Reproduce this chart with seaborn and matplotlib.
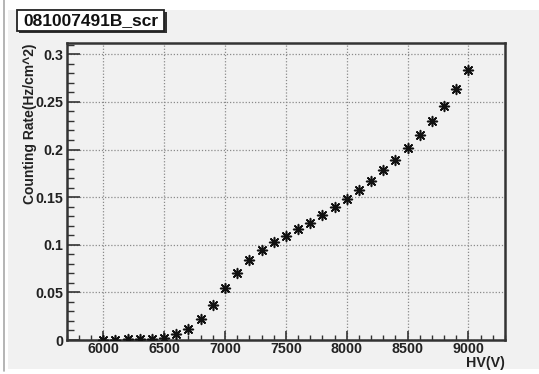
import matplotlib
matplotlib.use("Agg")
import matplotlib.pyplot as plt
from matplotlib.patches import Rectangle
from matplotlib.lines import Line2D
from matplotlib.ticker import MultipleLocator
import numpy as np
import pandas as pd
import seaborn as sns

# ---- data ----
hv = [6000, 6100, 6200, 6300, 6400, 6500, 6600, 6700, 6800, 6900,
      7000, 7100, 7200, 7300, 7400, 7500, 7600, 7700, 7800, 7900,
      8000, 8100, 8200, 8300, 8400, 8500, 8600, 8700, 8800, 8900, 9000]
rate = [0.0, 0.0, 0.0007, 0.001, 0.001, 0.002, 0.0063, 0.0115, 0.0217, 0.0367,
        0.0542, 0.0706, 0.0839, 0.0950, 0.1024, 0.1094, 0.1167, 0.1233, 0.1310, 0.1398,
        0.1485, 0.1575, 0.1672, 0.1780, 0.1894, 0.2016, 0.2156, 0.2299, 0.2453, 0.2631, 0.2830]
title_text = "081007491B_scr"
x_label = "HV(V)"
y_label = "Counting Rate(Hz/cm^2)"
x_ticks = [6000, 6500, 7000, 7500, 8000, 8500, 9000]
y_ticks = [0, 0.05, 0.1, 0.15, 0.2, 0.25, 0.3]
y_tick_labels = ["0", "0.05", "0.1", "0.15", "0.2", "0.25", "0.3"]

df = pd.DataFrame({"HV": hv, "rate": rate})

sns.set_theme(style="white")
plt.rcParams["font.family"] = ["Liberation Sans", "DejaVu Sans"]
plt.rcParams["font.weight"] = "bold"

W, H = 539, 374
fig = plt.figure(figsize=(W / 100, H / 100), dpi=100)
fig.patch.set_facecolor("white")

bg = "#f1f1f1"
# canvas background
fig.patches.append(Rectangle((8 / W, (H - 369) / H), (W - 8) / W, (369 - 10) / H,
                             transform=fig.transFigure, facecolor=bg, edgecolor="none", zorder=-5))
fig.lines.append(Line2D([3.5 / W, 3.5 / W], [(H - 371) / H, 1.0], transform=fig.transFigure,
                        color="#a8a8a8", linewidth=1.2, zorder=-4))

ax = fig.add_axes([66.7 / W, (H - 340) / H, (505 - 66.7) / W, (340 - 43.3) / H])
ax.set_zorder(1)
ax.set_facecolor(bg)

sns.scatterplot(data=df, x="HV", y="rate", ax=ax, marker=(8, 2, 0), s=50,
                color="#111111", edgecolor="#111111", linewidth=1.15, zorder=5, legend=False)

ax.set_xlim(5700, 9300)
ax.set_ylim(0, 0.3115)
ax.set_xticks(x_ticks)
ax.set_xticklabels([str(t) for t in x_ticks])
ax.set_yticks(y_ticks)
ax.set_yticklabels(y_tick_labels)
ax.xaxis.set_minor_locator(MultipleLocator(100))
ax.yaxis.set_minor_locator(MultipleLocator(0.01))

ax.grid(True, which="major", color="#8a8a8a", linestyle=(0, (1, 1.5)), linewidth=0.9)
ax.set_axisbelow(True)

for s in ax.spines.values():
    s.set_color("#333333")
    s.set_linewidth(1.8)
    s.set_visible(True)

ax.tick_params(axis="both", which="both", direction="in", colors="#333333",
               labelcolor="#222222", labelsize=10.3)
ax.tick_params(axis="y", which="major", length=9.4, width=1.2, pad=2.5, left=True, right=False)
ax.tick_params(axis="y", which="minor", length=5, width=1.0, left=True, right=False)
ax.tick_params(axis="x", which="major", length=6.8, width=1.2, pad=1.2, bottom=True, top=False)
ax.tick_params(axis="x", which="minor", length=3.4, width=1.0, bottom=True, top=False)
for lab in ax.get_xticklabels() + ax.get_yticklabels():
    lab.set_fontweight("bold")

ax.set_xlabel(x_label, fontsize=10.3, fontweight="bold", color="#222222", loc="right")
ax.xaxis.set_label_coords(1.0, -0.055)
ax.xaxis.label.set_verticalalignment("top")
ax.set_ylabel(y_label, fontsize=10, fontweight="bold", color="#222222", loc="top")
ax.yaxis.set_label_coords(-0.068, 1.0)

# title box with shadow
fig.patches.append(Rectangle((19 / W, 1 - 33 / H), (166.5 - 19) / W, (33 - 12) / H,
                             transform=fig.transFigure, facecolor="#333333", edgecolor="none", zorder=9))
fig.patches.append(Rectangle((17 / W, 1 - 31 / H), (164 - 17) / W, (31 - 10) / H,
                             transform=fig.transFigure, facecolor="white", edgecolor="#222222",
                             linewidth=1.3, zorder=10))
fig.text(90.5 / W, 1 - 20.5 / H, title_text, fontsize=12.5, fontweight="bold", color="#111111",
         ha="center", va="center", zorder=11)

fig.savefig("out.png", dpi=100, facecolor=fig.get_facecolor())
